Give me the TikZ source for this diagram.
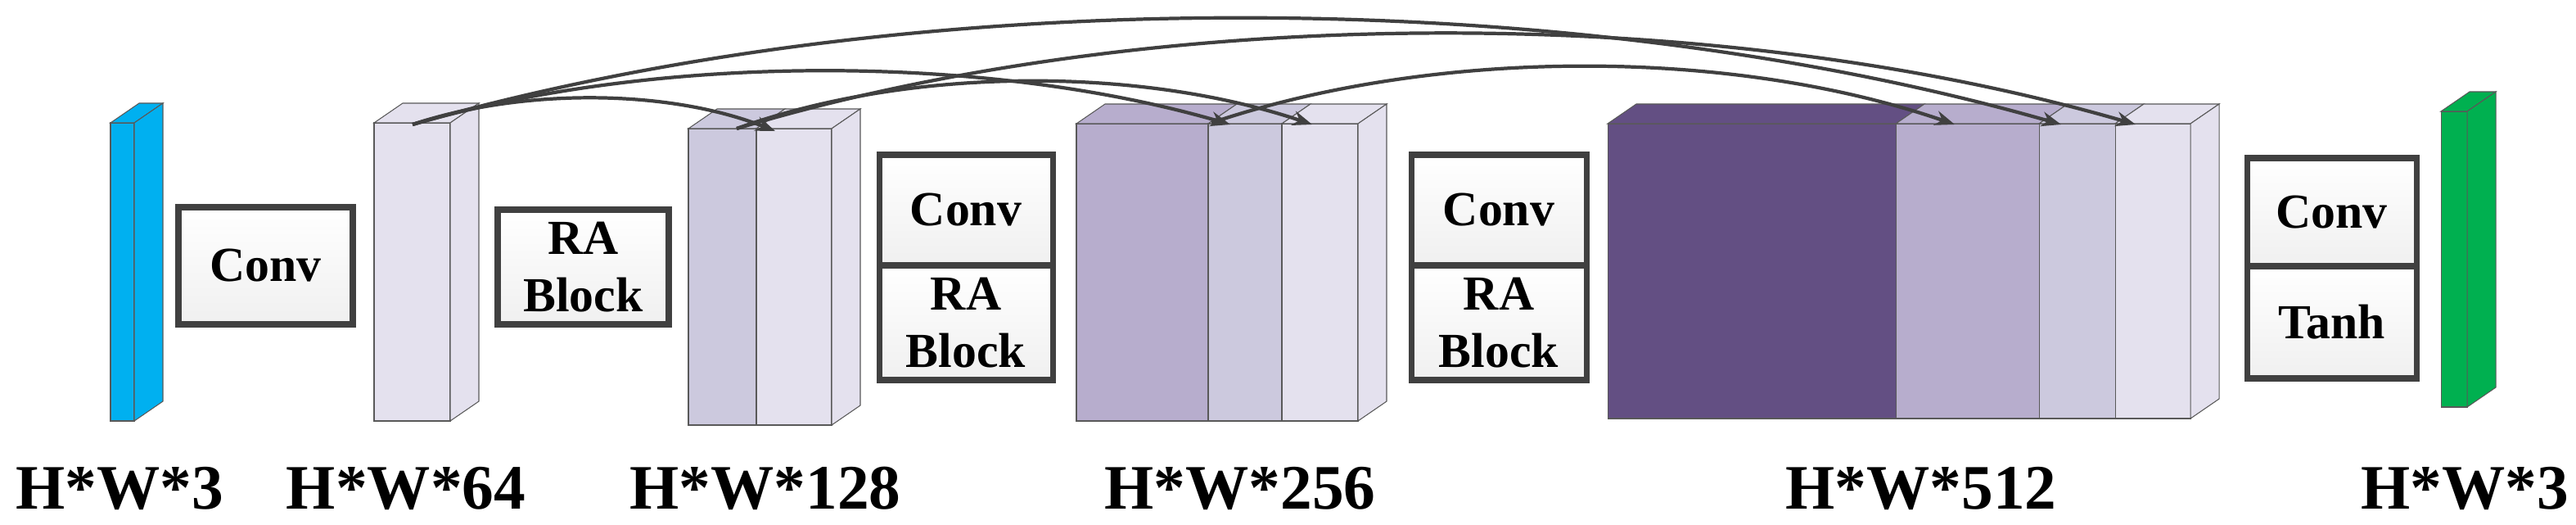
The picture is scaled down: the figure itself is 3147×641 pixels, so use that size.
\documentclass[tikz,border=0pt]{standalone}
\usepackage{fontspec}
\setmainfont{Liberation Serif}
\usetikzlibrary{arrows.meta}

\definecolor{edge}{HTML}{595959}
\definecolor{wire}{HTML}{404040}
\definecolor{inblue}{HTML}{00B0F0}
\definecolor{outgreen}{HTML}{00B050}
\definecolor{lav}{HTML}{E4E1EE}
\definecolor{lavmid}{HTML}{CCC9DE}
\definecolor{lavdeep}{HTML}{B7ADCD}
\definecolor{lavdark}{HTML}{634F83}

% front face + top face of one slice
\newcommand{\slab}[5]{%
  \filldraw[fill=#5,draw=edge,line width=0.3pt] (#1,#3) rectangle (#2,#4);
  \filldraw[fill=#5,draw=edge,line width=0.3pt] (#1,#3) -- ++(35,-24) -- (#2+35,#3-24) -- (#2,#3) -- cycle;}
% right side face
\newcommand{\sideface}[4]{%
  \filldraw[fill=#4,draw=edge,line width=0.3pt] (#1,#2) -- ++(35,-24) -- (#1+35,#3-24) -- (#1,#3) -- cycle;}

\tikzset{
  op/.style={draw=wire, line width=2pt, top color=white, bottom color=gray!12,
    font=\bfseries\fontsize{17}{20}\selectfont, align=center, inner sep=0pt},
  dim/.style={font=\bfseries\fontsize{22}{24}\selectfont},
  skip/.style={draw=wire, line width=1.2pt, -{Stealth[length=2.4mm,width=1.8mm]}}
}

\begin{document}
\begin{tikzpicture}[x=0.1mm, y=-0.1mm]
\useasboundingbox (0,0) rectangle (3147,641);

% feature maps
\slab{135}{164}{150}{514}{inblue}
\sideface{164}{150}{514}{inblue}

\slab{457}{550}{150}{514}{lav}
\sideface{550}{150}{514}{lav}

\slab{841}{924}{157}{519}{lavmid}
\slab{924}{1016}{157}{519}{lav}
\sideface{1016}{157}{519}{lav}

\slab{1315}{1476}{151}{514}{lavdeep}
\slab{1476}{1566}{151}{514}{lavmid}
\slab{1566}{1659}{151}{514}{lav}
\sideface{1659}{151}{514}{lav}

\slab{1964}{2316}{151}{511}{lavdark}
\slab{2316}{2491}{151}{511}{lavdeep}
\slab{2491}{2584}{151}{511}{lavmid}
\slab{2584}{2676}{151}{511}{lav}
\sideface{2676}{151}{511}{lav}

\slab{2982}{3014}{136}{497}{outgreen}
\sideface{3014}{136}{497}{outgreen}

% operations
\node[op, minimum width=21.3mm, minimum height=14.3mm] (conv1) at (324.5,324.5) {Conv};
\node[op, minimum width=20.9mm, minimum height=14mm] (ra1) at (712.5,326) {RA\\Block};
\node[op, minimum width=21.2mm, minimum height=13.5mm] (conv2) at (1180,256.5) {Conv};
\node[op, minimum width=21.2mm, minimum height=14mm] (ra2) at (1180,394) {RA\\Block};
\node[op, minimum width=21.4mm, minimum height=13.5mm] (conv3) at (1831,256.5) {Conv};
\node[op, minimum width=21.4mm, minimum height=14mm] (ra3) at (1831,394) {RA\\Block};
\node[op, minimum width=20.7mm, minimum height=13.2mm] (conv4) at (2848.5,259) {Conv};
\node[op, minimum width=20.7mm, minimum height=13.7mm] (tanh) at (2848.5,393.5) {Tanh};

% sizes
\node[dim] (d3) at (146,596) {H*W*3};
\node[dim] (d64) at (496,596) {H*W*64};
\node[dim] (d128) at (935,596) {H*W*128};
\node[dim] (d256) at (1515,596) {H*W*256};
\node[dim] (d512) at (2347,596) {H*W*512};
\node[dim] (d3out) at (3011,596) {H*W*3};

% dense skips
\coordinate (s64) at (504,152);
\coordinate (s128) at (900,157);
\coordinate (s256) at (1480,150);
\coordinate (t128) at (947,160);
\coordinate (t256a) at (1503,152);
\coordinate (t256b) at (1603,152);
\coordinate (t512a) at (2388,152);
\coordinate (t512b) at (2518,152);
\coordinate (t512c) at (2609,152);

\draw[skip] (s64) .. controls (636,108) and (815,108) .. (t128);
\draw[skip] (s64) .. controls (804,65) and (1203,65) .. (t256a);
\draw[skip] (s128) .. controls (1111,81) and (1392,81) .. (t256b);
\draw[skip] (s64) .. controls (1108,-21) and (1914,-21) .. (t512b);
\draw[skip] (s128) .. controls (1413,3) and (2096,3) .. (t512c);
\draw[skip] (s256) .. controls (1753,58) and (2115,58) .. (t512a);
\end{tikzpicture}
\end{document}
